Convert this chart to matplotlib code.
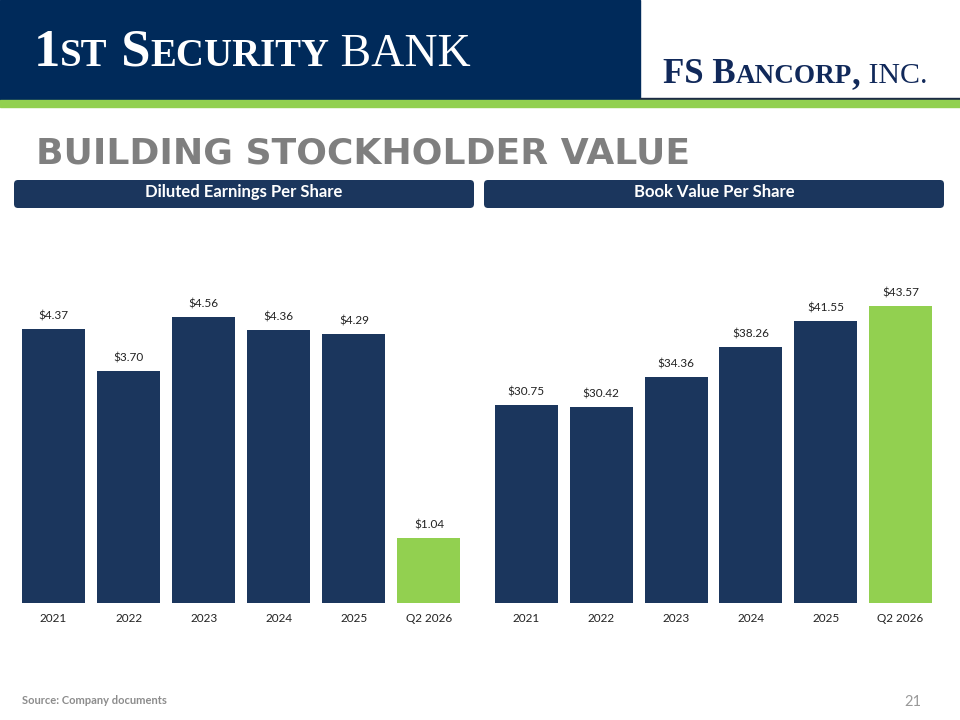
import matplotlib
matplotlib.use("Agg")
import matplotlib.pyplot as plt
from matplotlib.patches import Rectangle, FancyBboxPatch

# ===== data =====
categories = ["2021", "2022", "2023", "2024", "2025", "Q2 2026"]
eps_values = [4.37, 3.70, 4.56, 4.36, 4.29, 1.04]
bvps_values = [30.75, 30.42, 34.36, 38.26, 41.55, 43.57]

title = "BUILDING STOCKHOLDER VALUE"
panel_titles = ["Diluted Earnings Per Share", "Book Value Per Share"]
source_note = "Source: Company documents"
page_no = "21"

# ===== colours =====
HEADER_NAVY = "#002a5a"
BAR_NAVY = "#1b365d"
GREEN = "#92d050"
GREY = "#7f7f7f"
LABEL_FONT = "Lato"

W, H = 960, 720
fig = plt.figure(figsize=(W / 100, H / 100), dpi=100)
bg = fig.add_axes([0, 0, 1, 1], zorder=0)
bg.set_xlim(0, W)
bg.set_ylim(H, 0)
bg.axis("off")
renderer = fig.canvas.get_renderer()


def px_axes(left, top, width, height):
    return fig.add_axes([left / W, 1 - (top + height) / H, width / W, height / H], zorder=2)


def run_text(pieces, x, y, color):
    # put text pieces one after the other on a common baseline
    for s, size, weight, family in pieces:
        t = bg.text(x, y, s, fontsize=size, fontweight=weight, family=family,
                    color=color, va="baseline", ha="left")
        x += t.get_window_extent(renderer).width


# header band
bg.add_patch(Rectangle((0, 0), 640, 100, color=HEADER_NAVY, zorder=1))
bg.add_patch(Rectangle((640, 98), 320, 2, color="#1c2b45", zorder=1))
bg.add_patch(Rectangle((0, 100), W, 7, color=GREEN, zorder=1))

serif = "Liberation Serif"
run_text([("1", 38, "bold", serif), ("ST", 28, "bold", serif), (" S", 38, "bold", serif),
          ("ECURITY", 28, "bold", serif), (" BANK", 33, "normal", serif)],
         34, 66, "white")
run_text([("FS B", 25, "bold", serif), ("ANCORP", 19.5, "bold", serif), (",", 25, "bold", serif),
          (" INC.", 21.5, "normal", serif)],
         663, 83, "#11295a")

bg.text(36, 163, title, fontsize=26, fontweight="bold", family="DejaVu Sans",
        color=GREY, va="baseline", ha="left")

# section headers
for (x0, x1), label in zip([(14, 474), (484, 944)], panel_titles):
    bg.add_patch(FancyBboxPatch((x0, 180), x1 - x0, 28,
                                boxstyle="round,pad=0,rounding_size=4",
                                fc=BAR_NAVY, ec="none", zorder=1))
    bg.text((x0 + x1) / 2, 192, label, fontsize=12, fontweight="bold",
            family=LABEL_FONT, color="white", ha="center", va="center")

bg.text(22, 700, source_note, fontsize=8, fontweight="bold", family=LABEL_FONT,
        color="#8c8c8c", va="center", ha="left")
bg.text(921, 702, page_no, fontsize=10.5, family=LABEL_FONT, color="#999999",
        va="center", ha="right")


def bar_panel(ax, values, ymin, ymax):
    x = range(len(values))
    colors = [BAR_NAVY] * (len(values) - 1) + [GREEN]
    ax.bar(x, [v - ymin for v in values], bottom=ymin, width=0.84, color=colors)
    for i, v in enumerate(values):
        ax.annotate(f"${v:.2f}", (i, v), xytext=(0, 13), textcoords="offset pixels",
                    ha="center", va="center", fontsize=8.5, family=LABEL_FONT, color="#222222")
    ax.set_xlim(-0.5, len(values) - 0.5)
    ax.set_ylim(ymin, ymax)
    ax.set_xticks(list(x))
    ax.set_xticklabels(categories, fontsize=8.5, family=LABEL_FONT, color="#222222")
    ax.tick_params(axis="x", length=0, pad=7.5)
    ax.set_yticks([])
    for sp in ax.spines.values():
        sp.set_visible(False)
    ax.patch.set_alpha(0)


ax1 = px_axes(16, 603 - 5 * 62.7, 450.5, 5 * 62.7)
bar_panel(ax1, eps_values, 0, 5)

ax2 = px_axes(489, 603 - 40 * 7.708, 449, 40 * 7.708)
bar_panel(ax2, bvps_values, 5, 45)

fig.savefig("out.png", dpi=100)
